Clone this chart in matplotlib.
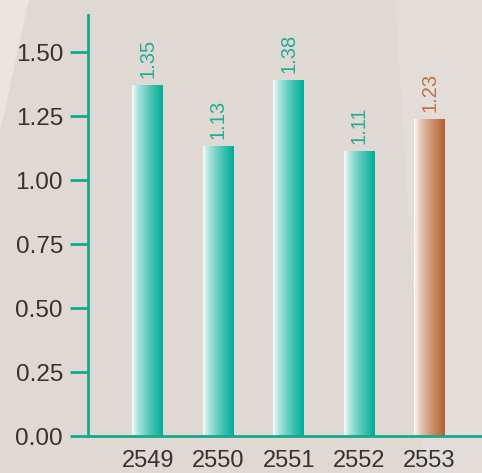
import matplotlib.pyplot as plt
import numpy as np
from matplotlib.colors import LinearSegmentedColormap

years = ["2549", "2550", "2551", "2552", "2553"]
value_labels = ["1.35", "1.13", "1.38", "1.11", "1.23"]
bar_tops = [1.37, 1.13, 1.39, 1.11, 1.235]
y_ticks = [0.00, 0.25, 0.50, 0.75, 1.00, 1.25, 1.50]

TEAL = "#00ad97"
BROWN = "#b5602e"
AXIS_TEAL = "#16a88f"
BG = "#dfd8d3"
TEXT = "#333333"

plt.rcParams["font.family"] = ["Liberation Sans", "DejaVu Sans"]

fig = plt.figure(figsize=(4.82, 4.73), dpi=100)
fig.patch.set_facecolor(BG)

# faint decorative background shapes, kept behind the axes
fig.patches.append(plt.Polygon([[0.0, 0.72], [0.06, 1.0], [0.0, 1.0]], closed=True,
                               transform=fig.transFigure, facecolor="#e9e4e0",
                               edgecolor="none", zorder=-5))
fig.patches.append(plt.Polygon([[0.82, 1.0], [0.88, 0.0], [1.0, 0.0], [1.0, 1.0]], closed=True,
                               transform=fig.transFigure, facecolor="#e3ddd9",
                               edgecolor="none", zorder=-5))

ax = fig.add_axes([88 / 482, 37 / 473, (482 - 88) / 482, (436 - 15) / 473])
ax.set_facecolor("none")

width = 0.44
t = np.linspace(0, 1, 256) ** 0.7
grad = t.reshape(1, -1)

for i, (top, lab) in enumerate(zip(bar_tops, value_labels)):
    last = i == len(years) - 1
    cmap = LinearSegmentedColormap.from_list("g", ["#ffffff", BROWN if last else TEAL])
    ax.imshow(grad, cmap=cmap, extent=[i - width / 2, i + width / 2, 0, top],
              aspect="auto", vmin=0, vmax=1, zorder=2, interpolation="bicubic")
    ax.text(i, top + 0.03, lab, rotation=90, ha="center", va="bottom",
            fontsize=14.5, color="#c0733f" if last else "#1fae98", zorder=3)

ax.set_xlim(-0.852, 4.744)
ax.set_ylim(0, 1.645)
ax.set_xticks(range(len(years)))
ax.set_xticklabels(years)
ax.set_yticks(y_ticks)
ax.set_yticklabels([f"{v:.2f}" for v in y_ticks])

for side in ("top", "right"):
    ax.spines[side].set_visible(False)
for side in ("left", "bottom"):
    ax.spines[side].set_color(AXIS_TEAL)
    ax.spines[side].set_linewidth(2.0)

ax.tick_params(axis="y", direction="out", length=13, width=2.0, color=AXIS_TEAL,
               labelsize=17.5, labelcolor=TEXT, pad=5)
ax.tick_params(axis="x", length=0, labelsize=17, labelcolor=TEXT, pad=10)

fig.savefig("out.png", dpi=100, facecolor=BG)
